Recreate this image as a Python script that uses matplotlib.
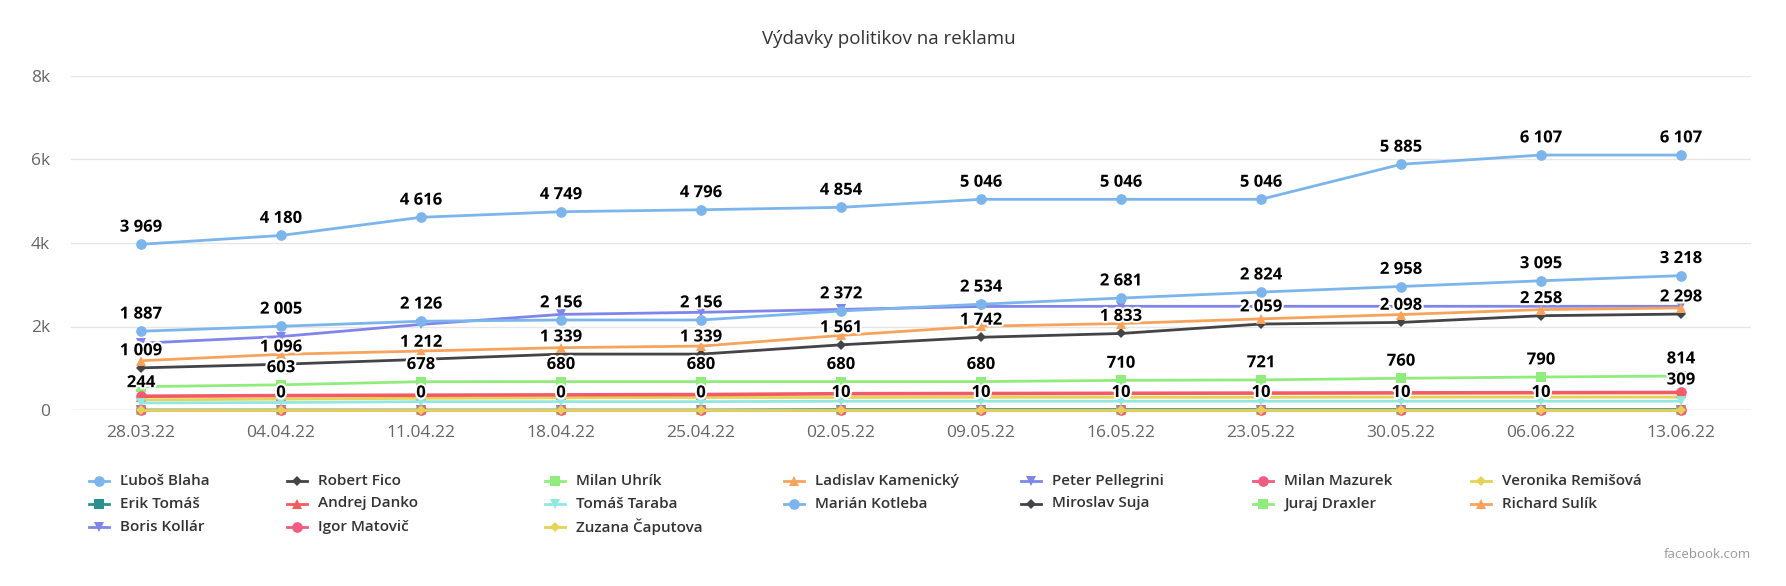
import matplotlib
matplotlib.use("Agg")
import matplotlib.pyplot as plt
import matplotlib.patheffects as pe
from matplotlib.lines import Line2D

plt.rcParams['font.family'] = ['Open Sans', 'DejaVu Sans']

dates = ["28.03.22", "04.04.22", "11.04.22", "18.04.22", "25.04.22", "02.05.22",
         "09.05.22", "16.05.22", "23.05.22", "30.05.22", "06.06.22", "13.06.22"]

names = ["Ľuboš Blaha", "Robert Fico", "Milan Uhrík", "Ladislav Kamenický",
         "Peter Pellegrini", "Milan Mazurek", "Veronika Remišová", "Erik Tomáš",
         "Andrej Danko", "Tomáš Taraba", "Marián Kotleba", "Miroslav Suja",
         "Juraj Draxler", "Richard Sulík", "Boris Kollár", "Igor Matovič",
         "Zuzana Čaputova"]

blaha = [3969, 4180, 4616, 4749, 4796, 4854, 5046, 5046, 5046, 5885, 6107, 6107]
fico = [1009, 1096, 1212, 1339, 1339, 1561, 1742, 1833, 2059, 2098, 2258, 2298]
uhrik = [560, 603, 678, 680, 680, 680, 680, 710, 721, 760, 790, 814]
kamenicky = [0, 0, 0, 0, 0, 0, 0, 0, 0, 0, 0, 0]
pellegrini = [1600, 1760, 2050, 2290, 2340, 2410, 2480, 2484, 2484, 2484, 2484, 2484]
mazurek = [340, 355, 365, 372, 380, 400, 405, 410, 415, 420, 425, 430]
remisova = [244, 260, 280, 290, 300, 300, 305, 305, 305, 309, 309, 309]
tomas = [0, 0, 0, 0, 0, 10, 10, 10, 10, 10, 10, 10]
danko = [320, 335, 345, 352, 360, 380, 385, 390, 395, 400, 405, 410]
taraba = [170, 180, 200, 200, 200, 210, 210, 210, 210, 210, 210, 210]
kotleba = [1887, 2005, 2126, 2156, 2156, 2372, 2534, 2681, 2824, 2958, 3095, 3218]
suja = [0, 0, 0, 0, 0, 0, 0, 0, 0, 0, 0, 0]
draxler = [0, 0, 0, 0, 0, 0, 0, 0, 0, 0, 0, 0]
sulik = [1180, 1333, 1412, 1493, 1531, 1786, 2007, 2071, 2183, 2286, 2405, 2445]
kollar = [0, 0, 0, 0, 0, 0, 0, 0, 0, 0, 0, 0]
matovic = [0, 0, 0, 0, 0, 0, 0, 0, 0, 0, 0, 0]
caputova = [0, 0, 0, 0, 0, 0, 0, 0, 0, 0, 0, 0]

series = [blaha, fico, uhrik, kamenicky, pellegrini, mazurek, remisova, tomas,
          danko, taraba, kotleba, suja, draxler, sulik, kollar, matovic, caputova]

# which point labels survive the overlap hiding in the original
shown_labels = {
    "Ľuboš Blaha": [0, 1, 2, 3, 4, 5, 6, 7, 8, 9, 10, 11],
    "Marián Kotleba": [0, 1, 2, 3, 4, 5, 6, 7, 8, 9, 10, 11],
    "Robert Fico": [0, 1, 2, 3, 4, 5, 6, 7, 8, 9, 10, 11],
    "Milan Uhrík": [1, 2, 3, 4, 5, 6, 7, 8, 9, 10, 11],
    "Veronika Remišová": [0, 11],
    "Erik Tomáš": [1, 2, 3, 4, 5, 6, 7, 8, 9, 10],
}

palette = ['#7cb5ec', '#434348', '#90ed7d', '#f7a35c', '#8085e9',
           '#f15c80', '#e4d354', '#2b908f', '#f45b5b', '#91e8e1']
symbols = ['o', 'D', 's', '^', 'v']
msize = {'o': 7.7, 'D': 5.6, 's': 7.0, '^': 7.7, 'v': 7.7}

W, H = 1786, 586
fig = plt.figure(figsize=(W / 100, H / 100), dpi=100)
ax = fig.add_axes([71 / W, 176 / H, 1680 / W, 334 / H])

x = list(range(len(dates)))
for k, (name, vals) in enumerate(zip(names, series)):
    col = palette[k % 10]
    mk = symbols[k % 5]
    ax.plot(x, vals, color=col, lw=2.0, marker=mk, ms=msize[mk], mew=0,
            zorder=3 + k * 0.01, clip_on=False)
    for i in shown_labels.get(name, []):
        ax.annotate(f"{vals[i]:,}".replace(",", " "), (i, vals[i]),
                    xytext=(0, 12.7), textcoords='offset points',
                    ha='center', va='center', fontsize=12, fontweight='bold',
                    color='black', zorder=10,
                    path_effects=[pe.withStroke(linewidth=3, foreground='white')])

ax.set_xlim(-0.5, 11.5)
ax.set_ylim(0, 8000)
ax.set_xticks(x, dates)
ax.set_yticks([0, 2000, 4000, 6000, 8000], ['0', '2k', '4k', '6k', '8k'])
for s in ax.spines.values():
    s.set_visible(False)
ax.tick_params(length=0, colors='#666666', labelsize=12.5)
ax.tick_params(axis='x', pad=11)
ax.tick_params(axis='y', pad=15)
ax.grid(axis='y', color='#e6e6e6', lw=1)
ax.set_axisbelow(True)
ax.axhline(0, color='#ccd6eb', lw=1, zorder=2)

# legend, laid out row by row like the original
col_x = [99, 297, 555, 794, 1031, 1263, 1481]
row_y = [481, 503.5, 527]
for k, name in enumerate(names):
    r, c = divmod(k, 7)
    xc, yc = col_x[c], H - row_y[r]
    col = palette[k % 10]
    mk = symbols[k % 5]
    fig.add_artist(Line2D([(xc - 10) / W, (xc + 10) / W], [yc / H, yc / H],
                          color=col, lw=2.0))
    fig.add_artist(Line2D([xc / W], [yc / H], marker=mk, ms=msize[mk], mew=0,
                          color=col))
    fig.text((xc + 21) / W, yc / H, name, ha='left', va='center',
             fontsize=11, fontweight='semibold', color='#333333')

fig.text(889 / W, 1 - 39 / H, "Výdavky politikov na reklamu", ha='center',
         va='center', fontsize=13.5, color='#333333')
fig.text(1751 / W, 1 - 555 / H, "facebook.com", ha='right', va='center',
         fontsize=9.5, color='#999999')

fig.savefig("out.png", dpi=100)
